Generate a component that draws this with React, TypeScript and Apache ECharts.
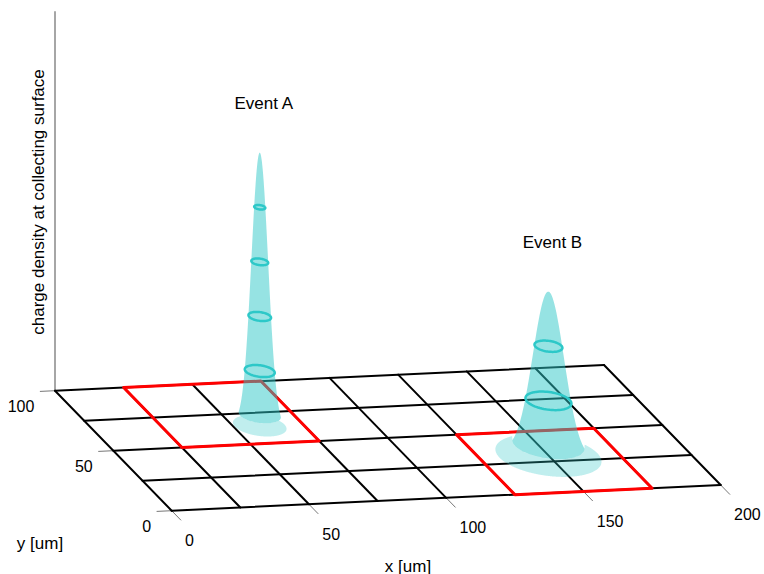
import React, { useEffect, useRef } from "react";
import * as echarts from "echarts";

// ---------- data ----------
const xGridValues = [0, 25, 50, 75, 100, 125, 150, 175, 200];
const yGridValues = [0, 25, 50, 75, 100];
const xTickLabels = [0, 50, 100, 150, 200];
const yTickLabels = [0, 50, 100];
// collecting pixels that fired: [x0, y0, x1, y1] in um
const firedPixels = [
  [25, 50, 75, 100],
  [125, 0, 175, 50],
];
const eventNames = ["Event A", "Event B"];
const eventX = [59.5, 150];
const eventY = [64.5, 30];
const eventPeak = [1.0, 0.6];
const eventSigma = [2.8, 5.2];
const eventFootprint = [9, 17.8];
const contourLevels = [0.2, 0.4, 0.6, 0.8];
const surfaceCutoff = 0.04;
const zAxisMax = 1.39;
const xTitle = "x [um]";
const yTitle = "y [um]";
const zTitle = "charge density at collecting surface";

// ---------- layout / projection ----------
const W = 764;
const H = 574;
const ORIGIN_PX = [171.7, 510.7];
const UX = 2.745;
const VX = 0.1285;
const UY = -1.167;
const VY = 1.2;
const VZ = 273;
const FONT = '"Liberation Sans", Arial, sans-serif';
const TEAL = "rgb(45,200,200)";

function project(x: number, y: number, z: number) {
  return [x * UX + y * UY, x * VX + y * VY + z * VZ];
}
function pt(api: any, x: number, y: number, z: number) {
  return api.coord(project(x, y, z));
}
const THETA_L = Math.atan2(-UY, -UX);

function ringUV(cx: number, cy: number, r: number, z: number, n = 72) {
  const pts: number[][] = [];
  for (let i = 0; i <= n; i++) {
    const t = (i / n) * Math.PI * 2;
    pts.push(project(cx + r * Math.cos(t), cy + r * Math.sin(t), z));
  }
  return pts;
}

// outline of gaussian cloud in projected (u, v) space
function cloudOutline(i: number) {
  const cx = eventX[i], cy = eventY[i], hp = eventPeak[i], s = eventSigma[i];
  const rMax = s * Math.sqrt(2 * Math.log(hp / surfaceCutoff));
  const N = 60;
  const left: number[][] = [];
  const right: number[][] = [];
  for (let k = 0; k <= N; k++) {
    const r = (rMax * k) / N;
    const z = hp * Math.exp(-(r * r) / (2 * s * s));
    left.push(project(cx + r * Math.cos(THETA_L), cy + r * Math.sin(THETA_L), z));
    right.push(project(cx - r * Math.cos(THETA_L), cy - r * Math.sin(THETA_L), z));
  }
  const zb = hp * Math.exp(-(rMax * rMax) / (2 * s * s));
  const arc: number[][] = [];
  for (let k = 1; k < 40; k++) {
    const t = THETA_L + (Math.PI * k) / 40;
    arc.push(project(cx + rMax * Math.cos(t), cy + rMax * Math.sin(t), zb));
  }
  return left.concat(arc, right.slice().reverse());
}

function crossingsAt(poly: number[][], u: number) {
  const out: number[] = [];
  for (let k = 0; k < poly.length; k++) {
    const a = poly[k];
    const b = poly[(k + 1) % poly.length];
    if (a[0] === b[0]) continue;
    if ((a[0] - u) * (b[0] - u) <= 0) {
      out.push(a[1] + ((u - a[0]) / (b[0] - a[0])) * (b[1] - a[1]));
    }
  }
  return out;
}

// footprint ellipse with the part covered by the cloud removed (u, v space)
function footprintOutline(i: number) {
  const R = eventFootprint[i];
  const ell = ringUV(eventX[i], eventY[i], R, 0, 180);
  const cone = cloudOutline(i);
  const c0 = project(eventX[i], eventY[i], 0);
  const half = R * Math.sqrt(UX * UX + UY * UY);
  const M = 240;
  const upper: number[][] = [];
  const lower: number[][] = [];
  for (let k = 0; k <= M; k++) {
    const u = c0[0] - half + 2 * half * (0.0005 + (0.999 * k) / M);
    const ev = crossingsAt(ell, u);
    if (ev.length < 2) continue;
    const eTop = Math.max(...ev);
    const eBot = Math.min(...ev);
    const cv = crossingsAt(cone, u);
    let top = eTop;
    if (cv.length) top = Math.max(eBot, Math.min(eTop, Math.min(...cv)));
    upper.push([u, top]);
    lower.push([u, eBot]);
  }
  return upper.concat(lower.reverse());
}

const baseSeries = {
  type: "custom",
  coordinateSystem: "cartesian2d",
  silent: true,
  clip: false,
  animation: false,
};

function buildOption() {
  const xMin = xGridValues[0];
  const xMax = xGridValues[xGridValues.length - 1];
  const yMin = yGridValues[0];
  const yMax = yGridValues[yGridValues.length - 1];
  const events = eventNames.map((_, i) => [i]);
  const titleStyle = { fill: "#000", fontSize: 17, fontFamily: FONT, align: "center", verticalAlign: "middle" };

  return {
    animation: false,
    grid: { left: 0, right: 0, top: 0, bottom: 0 },
    xAxis: { type: "value", min: -ORIGIN_PX[0], max: W - ORIGIN_PX[0], show: false },
    yAxis: { type: "value", min: -(H - ORIGIN_PX[1]), max: ORIGIN_PX[1], show: false },
    graphic: [
      { type: "text", x: 408, y: 566, style: { text: xTitle, ...titleStyle } },
      { type: "text", x: 40, y: 543, style: { text: yTitle, ...titleStyle } },
      { type: "text", x: 38, y: 202, rotation: Math.PI / 2, style: { text: zTitle, ...titleStyle } },
    ],
    series: [
      // ticks + tick labels
      {
        ...baseSeries,
        data: xTickLabels.map((v) => [0, v]).concat(yTickLabels.map((v) => [1, v])),
        renderItem: (params: any, api: any) => {
          const kind = api.value(0);
          const v = api.value(1);
          if (kind === 0) {
            const a = pt(api, v, yMin, 0);
            const b = pt(api, v, yMin - 8, 0);
            const l = pt(api, v - 5.5, yMin - 24.4, 0);
            return {
              type: "group",
              children: [
                { type: "line", shape: { x1: a[0], y1: a[1], x2: b[0], y2: b[1] }, style: { stroke: "#777", lineWidth: 1 } },
                {
                  type: "text",
                  x: l[0],
                  y: l[1],
                  style: { text: String(v), fill: "#000", fontSize: 16, fontFamily: FONT, align: "left", verticalAlign: "middle" },
                },
              ],
            };
          }
          const a = pt(api, xMin, v, 0);
          const b = pt(api, xMin - 5.5, v, 0);
          const l = pt(api, xMin - 12.6, v - 12, 0);
          return {
            type: "group",
            children: [
              { type: "line", shape: { x1: a[0], y1: a[1], x2: b[0], y2: b[1] }, style: { stroke: "#777", lineWidth: 1 } },
              {
                type: "text",
                x: l[0],
                y: l[1],
                style: { text: String(v), fill: "#000", fontSize: 16, fontFamily: FONT, align: "right", verticalAlign: "middle" },
              },
            ],
          };
        },
      },
      // vertical (charge density) axis
      {
        ...baseSeries,
        data: [[zAxisMax]],
        renderItem: (params: any, api: any) => {
          const a = pt(api, xMin, yMax, 0);
          const b = pt(api, xMin, yMax, api.value(0));
          return { type: "line", shape: { x1: a[0], y1: a[1], x2: b[0], y2: b[1] }, style: { stroke: "#888", lineWidth: 1.5 } };
        },
      },
      // grid lines
      {
        ...baseSeries,
        data: xGridValues.map((v) => [0, v]).concat(yGridValues.map((v) => [1, v])),
        renderItem: (params: any, api: any) => {
          const kind = api.value(0);
          const v = api.value(1);
          const a = kind === 0 ? pt(api, v, yMin, 0) : pt(api, xMin, v, 0);
          const b = kind === 0 ? pt(api, v, yMax, 0) : pt(api, xMax, v, 0);
          return {
            type: "line",
            shape: { x1: a[0], y1: a[1], x2: b[0], y2: b[1] },
            style: { stroke: "#000", lineWidth: 2, lineCap: "round" },
          };
        },
      },
      // fired pixels
      {
        ...baseSeries,
        data: firedPixels,
        renderItem: (params: any, api: any) => {
          const x0 = api.value(0), y0 = api.value(1), x1 = api.value(2), y1 = api.value(3);
          return {
            type: "polygon",
            shape: { points: [pt(api, x0, y0, 0), pt(api, x1, y0, 0), pt(api, x1, y1, 0), pt(api, x0, y1, 0)] },
            style: { fill: "none", stroke: "#ff0000", lineWidth: 3, lineJoin: "round" },
          };
        },
      },
      // charge footprints (outside the cloud)
      {
        ...baseSeries,
        data: events,
        renderItem: (params: any, api: any) => {
          const i = api.value(0);
          const points = footprintOutline(i).map((p) => api.coord(p));
          return { type: "polygon", shape: { points }, style: { fill: "rgba(45,200,200,0.3)", stroke: "none" } };
        },
      },
      // gaussian charge clouds
      {
        ...baseSeries,
        data: events,
        renderItem: (params: any, api: any) => {
          const i = api.value(0);
          const points = cloudOutline(i).map((p) => api.coord(p));
          return { type: "polygon", shape: { points }, style: { fill: "rgba(45,200,200,0.5)", stroke: "none" } };
        },
      },
      // contour rings
      {
        ...baseSeries,
        data: events,
        renderItem: (params: any, api: any) => {
          const i = api.value(0);
          const children: any[] = [];
          contourLevels.forEach((lv) => {
            if (lv >= eventPeak[i]) return;
            const r = eventSigma[i] * Math.sqrt(2 * Math.log(eventPeak[i] / lv));
            children.push({
              type: "polyline",
              shape: { points: ringUV(eventX[i], eventY[i], r, lv).map((p) => api.coord(p)) },
              style: { fill: "none", stroke: TEAL, lineWidth: 2.5 },
            });
          });
          return { type: "group", children };
        },
      },
      // event labels
      {
        ...baseSeries,
        data: events,
        renderItem: (params: any, api: any) => {
          const i = api.value(0);
          const tip = pt(api, eventX[i], eventY[i], eventPeak[i]);
          return {
            type: "text",
            x: tip[0] + 4,
            y: tip[1] - 49,
            style: { text: eventNames[i], ...titleStyle },
          };
        },
      },
    ],
  };
}

export default function App() {
  const ref = useRef<HTMLDivElement>(null);
  useEffect(() => {
    if (!ref.current) return;
    const chart = echarts.init(ref.current, undefined, { renderer: "svg" });
    chart.setOption(buildOption() as any);
    return () => chart.dispose();
  }, []);
  return (
    <div
      ref={ref}
      style={{ position: "fixed", left: 0, top: 0, width: W, height: H, background: "#fff" }}
    />
  );
}
